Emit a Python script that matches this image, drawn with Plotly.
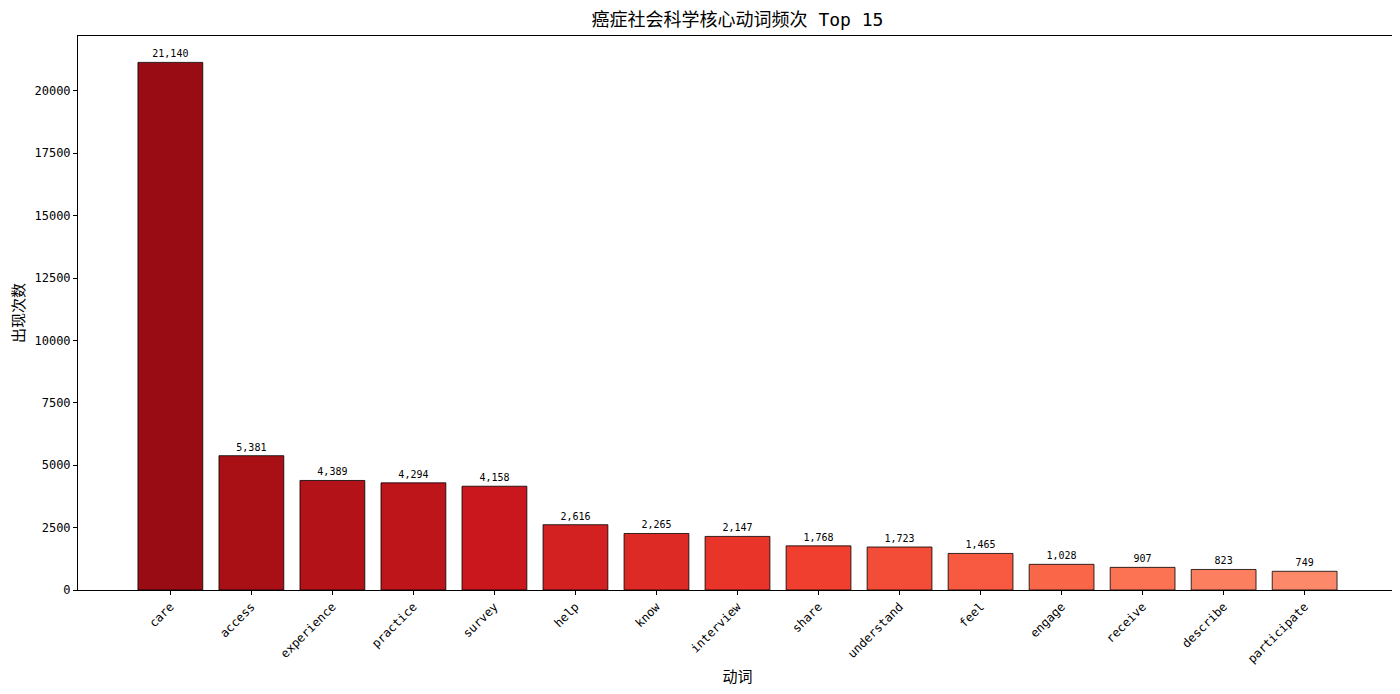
import plotly.graph_objects as go
import plotly.express as px
from plotly.colors import sample_colorscale
import numpy as np

verbs = ["care", "access", "experience", "practice", "survey", "help", "know", "interview",
         "share", "understand", "feel", "engage", "receive", "describe", "participate"]
counts = [21140, 5381, 4389, 4294, 4158, 2616, 2265, 2147, 1768, 1723, 1465, 1028, 907, 823, 749]

FONT = "DejaVu Sans Mono, Noto Sans CJK SC, sans-serif"

# Reds colormap from dark to light, like the original
bar_colors = sample_colorscale(px.colors.sequential.Reds, list(np.linspace(0.9, 0.4, len(verbs))))

fig = go.Figure(go.Bar(
    x=list(range(len(verbs))), y=counts,
    width=0.8,
    marker=dict(color=bar_colors, line=dict(color="black", width=0.8)),
    text=[f"{c:,}" for c in counts],
    textposition="outside",
    textfont=dict(size=10, color="black", family=FONT),
    cliponaxis=False,
))

fig.update_layout(
    width=1400, height=694,
    margin=dict(l=68, r=10, t=28, b=112),
    plot_bgcolor="white", paper_bgcolor="white",
    font=dict(family=FONT, color="black"),
    showlegend=False,
    title=dict(text="癌症社会科学核心动词频次 Top 15", x=0.5, xref="paper", xanchor="center",
               y=0.983, yanchor="middle", font=dict(size=18, color="black")),
)
fig.update_xaxes(
    range=[-1.14, 15.14],
    tickmode="array", tickvals=list(range(len(verbs))), ticktext=verbs,
    tickangle=-45, tickfont=dict(size=12),
    ticks="outside", ticklen=4, tickcolor="black",
    showline=True, linecolor="black", linewidth=1, mirror=True,
    showgrid=False, zeroline=False,
    title=dict(text="动词", font=dict(size=15), standoff=6),
)
fig.update_yaxes(
    range=[0, 21140 * 1.05],
    tickmode="array", tickvals=[0, 2500, 5000, 7500, 10000, 12500, 15000, 17500, 20000],
    tickformat="d", tickfont=dict(size=12),
    ticks="outside", ticklen=4, tickcolor="black",
    showline=True, linecolor="black", linewidth=1, mirror=True,
    showgrid=False, zeroline=False,
    title=dict(text="出现次数", font=dict(size=15), standoff=6),
)

fig.write_html("out.html")
